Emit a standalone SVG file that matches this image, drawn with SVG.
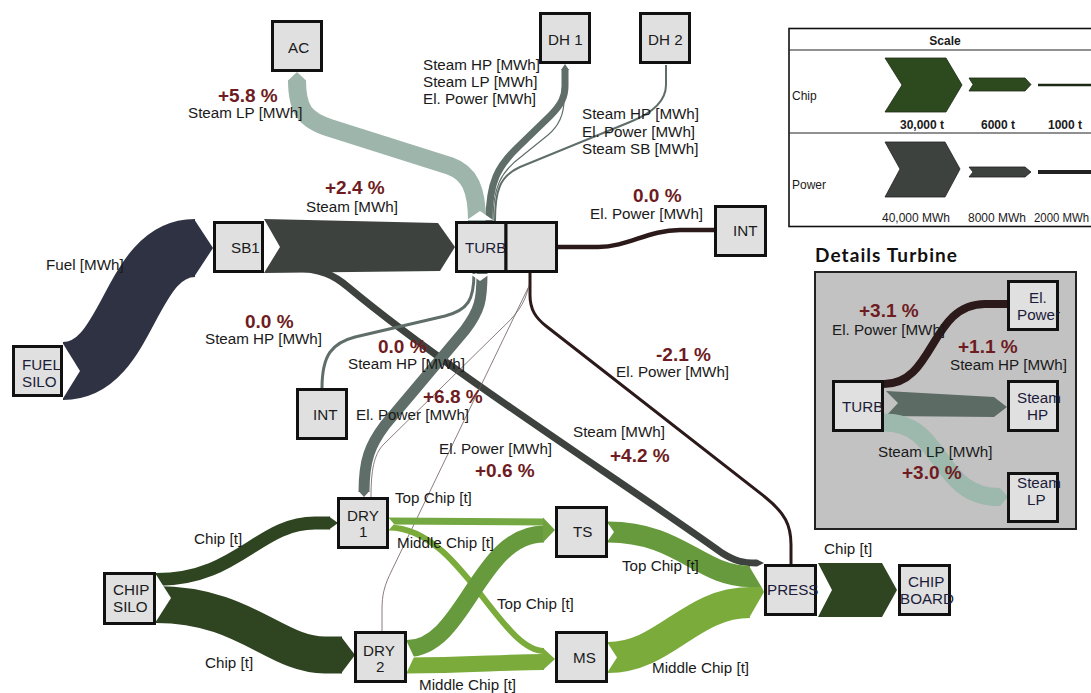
<svg xmlns="http://www.w3.org/2000/svg" width="1091" height="693" viewBox="0 0 1091 693">
  <defs>
    <style>
      .node rect { fill: #e0e0e0; stroke: #111; stroke-width: 3; }
      .nl { font-family: "Liberation Sans", Arial, sans-serif; font-size: 15.2px; fill: #1a1a1a; }
      .nl2 { font-family: "Liberation Sans", Arial, sans-serif; font-size: 15.2px; fill: #1c1c3a; }
      .lbl { font-family: "Liberation Sans", Arial, sans-serif; font-size: 15.2px; fill: #1a1a1a; }
      .pct { font-family: "Liberation Sans", Arial, sans-serif; font-size: 19px; font-weight: bold; fill: #6e1c22; }
      .sc { font-family: "Liberation Sans", Arial, sans-serif; font-size: 12px; fill: #1a1a1a; }
      .flow { fill: none; stroke-linecap: butt; stroke-linejoin: round; }
      .fuel { stroke: #2f3242; }
      .steam { stroke: #3d423e; }
      .hp { stroke: #5f6e68; }
      .lp { stroke: #9db5aa; }
      .el { stroke: #2c1a1b; }
      .elthin { stroke: #6d5c5c; }
      .chip { stroke: #2f4420; }
      .top { stroke: #679a3c; }
      .top2 { stroke: #74a842; }
      .mid { stroke: #7aab3b; }
      .notch { fill: #ffffff; }
    </style>
  </defs>
  <rect x="0" y="0" width="1091" height="693" fill="#ffffff"/>

  <!-- connectors -->
  <g id="connectors">
    <!-- SB1 to PRESS steam -->
    <path class="flow steam" stroke-width="7" d="M290,268 C322,268 335,276 348,287 C450,372 620,480 722,553 C735,561 742,563 757,563"/>
    <polygon fill="#3d423e" points="757,559.5 764,563 757,566.5"/>

    <!-- FUEL SILO to SB1 -->
    <path class="flow fuel" stroke-width="58" d="M63,371 C130,371 128,248 195,248"/>
    <polygon fill="#2f3242" points="194,219 213,248 194,277"/>
    <polygon class="notch" points="62,342 80,371 62,400"/>

    <!-- SB1 to TURB steam -->
    <polygon fill="#3d423e" points="264,219 438,223 455,247 440,271 264,273 280,247"/>

    <!-- TURB to AC -->
    <path class="flow lp" stroke-width="18" d="M477,221 C477,190 470,173 450,166 L330,128 C305,120 297,110 297,80"/>
    <polygon fill="#9db5aa" points="288,80.5 297,72 306,80.5"/>

    <!-- TURB to DH 1 -->
    <path class="flow hp" stroke-width="7" d="M489,221 C489,182 498,166 518,147 L550,116 C562,104 565,96 565,86 L565,69"/>
    <polygon fill="#5f6e68" points="561,70 565,64 569,70"/>
    <path class="flow hp" stroke-width="1.2" d="M493,221 C493,188 500,172 522,156 L548,135 C560,125 564,112 564,100"/>

    <!-- TURB to DH 2 -->
    <path class="flow hp" stroke-width="2" d="M495,221 C495,190 500,176 520,167 L630,122 C655,112 666,100 666,85 L666,65"/>

    <!-- notch at TURB top -->
    <polygon class="notch" points="467,220 480,211 493,220"/>

    <!-- TURB to INT (El. Power) -->
    <path class="flow el" stroke-width="4.5" d="M557,247 L598,247 C628,247 648,230 680,230 L714,230"/>

    <!-- TURB to PRESS (El. Power) -->
    <path class="flow el" stroke-width="3" d="M530,273 L530,295 C530,310 536,318 546,326 L765,497 C785,513 791,525 791,545 L791,564"/>

    <!-- TURB to DRY 1 / DRY 2 thin El. Power -->
    <path class="flow elthin" stroke-width="0.8" d="M529,285 C525,305 515,316 500,330 L383,445 C374,455 371,470 371,497"/>
    <path class="flow elthin" stroke-width="0.8" d="M528,288 L392,570 C384,586 382,595 382,610 L382,631"/>

    <!-- TURB to INT (Steam HP) -->
    <path class="flow hp" stroke-width="3" d="M474,273 C474,300 468,310 445,316 L355,337 C332,343 322,355 322,388"/>

    <!-- TURB to DRY 1 (Steam HP) -->
    <path class="flow hp" stroke-width="11" d="M482,273 C482,300 480,310 465,330 L385,425 C370,445 364,460 364,492"/>
    <polygon fill="#5f6e68" points="358.5,491 364,497 369.5,491"/>

    <!-- notch at TURB bottom -->
    <polygon class="notch" points="470,274 480,281 490,274"/>

    <!-- CHIP SILO to DRY 1 / DRY 2 -->
    <path class="flow chip" stroke-width="13" d="M156,579.5 C238,579.5 258,523 315,523 L330,523"/>
    <polygon fill="#2f4420" points="329,516.5 338,523 329,529.5"/>
    <path class="flow chip" stroke-width="37" d="M156,604.5 C245,604.5 275,655 325,655 L342,655"/>
    <polygon fill="#2f4420" points="341,636.5 355,655 341,673.5"/>
    <polygon class="notch" points="155,573 171,598 155,623"/>

    <!-- DRY 1 to TS / MS -->
    <path class="flow top2" stroke-width="7" d="M389,521 L544,522"/>
    <path class="flow mid" stroke-width="6" d="M389,527.5 C460,527.5 500,651 544,651"/>
    <polygon class="notch" points="388,517 394,524 388,531"/>

    <!-- DRY 2 to TS / MS -->
    <path class="flow top" stroke-width="17" d="M407,648.5 C465,648.5 478,534 544,534"/>
    <path class="flow mid" stroke-width="16" d="M407,665.5 C470,665.5 500,662 544,662"/>
    <polygon class="notch" points="406,640 414,657 406,674"/>

    <!-- inlet tips at TS and MS -->
    <polygon fill="#6fa23f" points="543,517.5 555,530 543,542.5"/>
    <polygon fill="#7aab3b" points="543,648 555,659 543,670"/>

    <!-- TS / MS to PRESS -->
    <path class="flow top" stroke-width="21" d="M608,532 C680,532 700,576.5 750,576.5"/>
    <path class="flow mid" stroke-width="31" d="M608,657.5 C665,657.5 690,602.5 750,602.5"/>
    <polygon fill="#679a3c" points="749,566 761.5,587 749,587"/>
    <polygon fill="#7aab3b" points="749,587 761.5,587 764,592 749,618"/>
    <polygon class="notch" points="607,522 614,532 607,542"/>
    <polygon class="notch" points="607,642 617,657.5 607,673"/>

    <!-- PRESS to CHIP BOARD -->
    <polygon fill="#2f4420" points="818,563 882,563 897,590 882,617 818,617 832,590"/>
  </g>

  <!-- flow labels -->
  <g id="flow-labels">
    <text class="pct" x="218" y="102">+5.8 %</text>
    <text class="lbl" x="188" y="118">Steam LP [MWh]</text>
    <text class="lbl" x="423" y="70">Steam HP [MWh]</text>
    <text class="lbl" x="423" y="87">Steam LP [MWh]</text>
    <text class="lbl" x="423" y="104">El. Power [MWh]</text>
    <text class="lbl" x="582" y="119">Steam HP [MWh]</text>
    <text class="lbl" x="582" y="137">El. Power [MWh]</text>
    <text class="lbl" x="582" y="154">Steam SB [MWh]</text>
    <text class="pct" x="325" y="194">+2.4 %</text>
    <text class="lbl" x="306" y="212">Steam [MWh]</text>
    <text class="pct" x="633" y="202">0.0 %</text>
    <text class="lbl" x="590" y="219">El. Power [MWh]</text>
    <text class="lbl" x="46" y="270">Fuel [MWh]</text>
    <text class="pct" x="245" y="328">0.0 %</text>
    <text class="lbl" x="205" y="344">Steam HP [MWh]</text>
    <text class="pct" x="378" y="353">0.0 %</text>
    <text class="lbl" x="348" y="369">Steam HP [MWh]</text>
    <text class="pct" x="423" y="403">+6.8 %</text>
    <text class="lbl" x="356" y="420">El. Power [MWh]</text>
    <text class="pct" x="656" y="361">-2.1 %</text>
    <text class="lbl" x="616" y="377">El. Power [MWh]</text>
    <text class="lbl" x="573" y="437">Steam [MWh]</text>
    <text class="pct" x="610" y="462">+4.2 %</text>
    <text class="lbl" x="439" y="454">El. Power [MWh]</text>
    <text class="pct" x="475" y="477">+0.6 %</text>
    <text class="lbl" x="395" y="503">Top Chip [t]</text>
    <text class="lbl" x="397" y="548">Middle Chip [t]</text>
    <text class="lbl" x="194" y="544">Chip [t]</text>
    <text class="lbl" x="205" y="668">Chip [t]</text>
    <text class="lbl" x="497" y="609">Top Chip [t]</text>
    <text class="lbl" x="419" y="690">Middle Chip [t]</text>
    <text class="lbl" x="622" y="571">Top Chip [t]</text>
    <text class="lbl" x="652" y="673">Middle Chip [t]</text>
    <text class="lbl" x="824" y="554">Chip [t]</text>
  </g>

  <!-- nodes -->
  <g id="node-ac" class="node"><rect x="272.5" y="21.5" width="49" height="49"/><text class="nl" x="288" y="53">AC</text></g>
  <g id="node-dh1" class="node"><rect x="540.5" y="13.5" width="49" height="49"/><text class="nl" x="548" y="45">DH 1</text></g>
  <g id="node-dh2" class="node"><rect x="640.5" y="13.5" width="49" height="49"/><text class="nl" x="648" y="45">DH 2</text></g>
  <g id="node-turb" class="node">
    <rect x="456.5" y="222.5" width="49.5" height="49"/>
    <text class="nl2" x="465" y="253">TURB</text>
    <rect x="506" y="222.5" width="50.5" height="49"/>
  </g>
  <g id="node-sb1" class="node"><rect x="214.5" y="222.5" width="48" height="49"/><text class="nl" x="231" y="253">SB1</text></g>
  <g id="node-int1" class="node"><rect x="715.5" y="206.5" width="50" height="49"/><text class="nl" x="733" y="236">INT</text></g>
  <g id="node-fuelsilo" class="node"><rect x="13.5" y="346.5" width="48" height="49"/><text class="nl2" x="22" y="370">FUEL</text><text class="nl2" x="22" y="387">SILO</text></g>
  <g id="node-int2" class="node"><rect x="297.5" y="389.5" width="49" height="49"/><text class="nl" x="313" y="420">INT</text></g>
  <g id="node-dry1" class="node"><rect x="338.5" y="498.5" width="49" height="49"/><text class="nl" x="347" y="521">DRY</text><text class="nl" x="359" y="537">1</text></g>
  <g id="node-dry2" class="node"><rect x="355.5" y="632.5" width="50" height="49"/><text class="nl" x="363" y="656">DRY</text><text class="nl" x="376" y="672">2</text></g>
  <g id="node-chipsilo" class="node"><rect x="104.5" y="573.5" width="50" height="50"/><text class="nl" x="113" y="595">CHIP</text><text class="nl" x="113" y="612">SILO</text></g>
  <g id="node-ts" class="node"><rect x="556.5" y="507.5" width="50" height="49"/><text class="nl" x="573" y="537">TS</text></g>
  <g id="node-ms" class="node"><rect x="556.5" y="632.5" width="50" height="49"/><text class="nl" x="573" y="663">MS</text></g>
  <g id="node-press" class="node"><rect x="765.5" y="565.5" width="50" height="49"/><text class="nl2" x="767" y="595">PRESS</text></g>
  <g id="node-chipboard" class="node"><rect x="899.5" y="565.5" width="50" height="49"/><text class="nl2" x="908" y="587">CHIP</text><text class="nl2" x="900" y="604">BOARD</text></g>

  <!-- scale legend -->
  <g id="scale">
    <rect x="789" y="28.5" width="320" height="198" fill="#ffffff" stroke="#111" stroke-width="1.6"/>
    <line x1="789" y1="50" x2="1091" y2="50" stroke="#222" stroke-width="1.2"/>
    <line x1="789" y1="133" x2="1091" y2="133" stroke="#222" stroke-width="1.2"/>
    <text class="sc" x="945" y="45" text-anchor="middle" font-weight="bold" font-size="12.5px">Scale</text>
    <text class="sc" x="792" y="100" font-size="13px">Chip</text>
    <text class="sc" x="792" y="189" font-size="13px">Power</text>
    <polygon fill="#2d4a1f" stroke="#1c2a14" stroke-width="0.8" points="885,58 946,58 962,85 946,112 885,112 902,85"/>
    <polygon fill="#2d4a1f" stroke="#1c2a14" stroke-width="0.8" points="969,78 1025,78 1031,84.5 1025,91 969,91 973,84.5"/>
    <line x1="1038" y1="85" x2="1091" y2="85" stroke="#1c2a14" stroke-width="2.5"/>
    <text class="sc" x="922" y="129" text-anchor="middle" font-weight="600">30,000 t</text>
    <text class="sc" x="998" y="129" text-anchor="middle" font-weight="600">6000 t</text>
    <text class="sc" x="1065" y="129" text-anchor="middle" font-weight="600">1000 t</text>
    <polygon fill="#3d423e" stroke="#222" stroke-width="0.8" points="885,142 945,142 960,169 945,197 885,197 900,169"/>
    <polygon fill="#3d423e" stroke="#222" stroke-width="0.8" points="969,167 1025,167 1031,172 1025,177 969,177 973,172"/>
    <line x1="1038" y1="172" x2="1091" y2="172" stroke="#222" stroke-width="4"/>
    <text class="sc" x="916" y="222" text-anchor="middle" font-size="12.5px">40,000 MWh</text>
    <text class="sc" x="968" y="222" font-size="12.5px">8000 MWh</text>
    <text class="sc" x="1034" y="222" font-size="12px" textLength="55" lengthAdjust="spacingAndGlyphs">2000 MWh</text>
  </g>

  <!-- turbine detail panel -->
  <g id="details-turbine">
    <text x="815" y="262" font-family="Lato, 'Open Sans', sans-serif" font-size="19px" font-weight="bold" fill="#111" textLength="142">Details Turbine</text>
    <rect x="815" y="272" width="261" height="257" fill="#c2c2c2" stroke="#222" stroke-width="2"/>
    <path class="flow el" stroke-width="8" d="M884,384 C935,384 930,304 985,304 L1007,304"/>
    <polygon fill="#5d6b65" points="886,391 994,397 1007,407 994,417 886,416 898,403"/>
    <path class="flow" stroke="#9db8ad" stroke-width="18" d="M884,422.5 C945,422.5 935,497 1000,497"/>
    <polygon fill="#9db8ad" points="1000,488 1008,497 1000,506"/>
    <text class="pct" x="859" y="317">+3.1 %</text>
    <text class="lbl" x="832" y="335">El. Power [MWh]</text>
    <text class="pct" x="958" y="353">+1.1 %</text>
    <text class="lbl" x="950" y="370">Steam HP [MWh]</text>
    <text class="lbl" x="878" y="457">Steam LP [MWh]</text>
    <text class="pct" x="902" y="479">+3.0 %</text>
  </g>
  <g id="node-d-turb" class="node"><rect x="833.5" y="381.5" width="49" height="49"/><text class="nl2" x="842" y="412">TURB</text></g>
  <g id="node-d-el" class="node"><rect x="1008.5" y="281.5" width="49" height="48"/><text class="nl2" x="1029" y="303">El.</text><text class="nl2" x="1017" y="320">Power</text></g>
  <g id="node-d-hp" class="node"><rect x="1008.5" y="381.5" width="49" height="49"/><text class="nl2" x="1017" y="403">Steam</text><text class="nl2" x="1027" y="420">HP</text></g>
  <g id="node-d-lp" class="node"><rect x="1008.5" y="473.5" width="49" height="48"/><text class="nl2" x="1017" y="488">Steam</text><text class="nl2" x="1027" y="505">LP</text></g>
</svg>
